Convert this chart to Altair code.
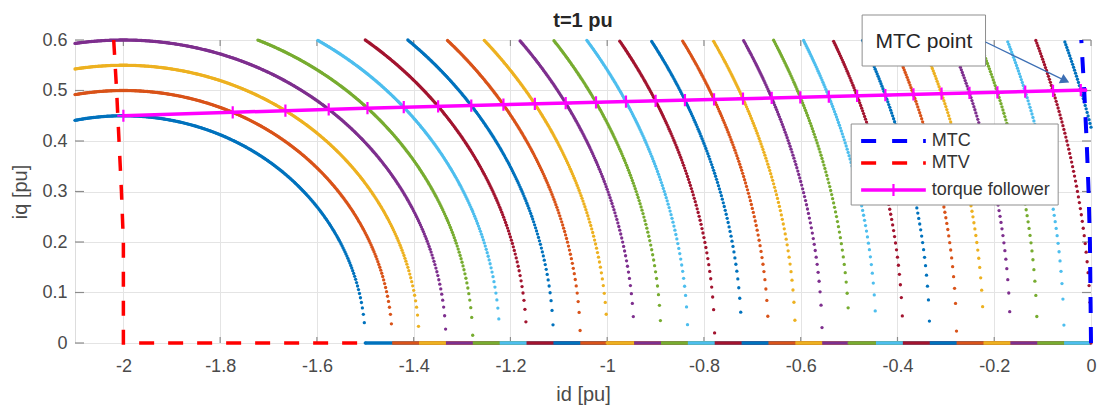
import altair as alt
import numpy as np
import pandas as pd

# ---------------- text ----------------
TITLE = "t=1 pu"
X_LABEL = "id [pu]"
Y_LABEL = "iq [pu]"
ANNOT_TEXT = "MTC point"
LEGEND_LABELS = ["MTC", "MTV", "torque follower"]

# ---------------- axes ----------------
X_DOMAIN = [-2.1, 0.0]
Y_DOMAIN = [0.0, 0.6]
X_TICKS = [-2, -1.8, -1.6, -1.4, -1.2, -1, -0.8, -0.6, -0.4, -0.2, 0]
Y_TICKS = [0, 0.1, 0.2, 0.3, 0.4, 0.5, 0.6]

# ---------------- voltage-limit arcs ----------------
ARC_CENTER_ID = -2.0
ARC_INTERCEPTS = [-1.5, -1.4444, -1.3889, -1.3333, -1.2778, -1.2222, -1.1667,
                  -1.1111, -1.0556, -1.0, -0.9444, -0.8889, -0.8333, -0.7778,
                  -0.7222, -0.6667, -0.6111, -0.5556, -0.5, -0.4444, -0.3889,
                  -0.3333, -0.2778, -0.2222, -0.1667, -0.1111, -0.0556, 0.0, 0.0556]
ARC_PEAKS = [0.45, 0.50, 0.55, 0.60, 0.65, 0.70, 0.75, 0.80, 0.85, 0.90,
             0.95, 1.00, 1.05, 1.10, 1.15, 1.20, 1.25, 1.30, 1.35, 1.40,
             1.45, 1.50, 1.55, 1.60, 1.65, 1.70, 1.75, 1.80, 1.85]
ARC_COLORS = ["#0072BD", "#D95319", "#EDB120", "#7E2F8E", "#77AC30", "#4DBEEE", "#A2142F"]
ID_STEP = 0.002

# ---------------- other curves ----------------
MTC_ID = [0.0, -0.0022, -0.005, -0.009, -0.014, -0.02]
MTC_IQ = [0.0, 0.2, 0.3, 0.4, 0.5, 0.6]
MTV_ID = [-2.02, -2.014, -2.009, -2.004, -2.0, -2.0, -1.5]
MTV_IQ = [0.6, 0.5, 0.4, 0.3, 0.2, 0.0, 0.0]
TF_ID = [-2.0, -1.5, -1.0, -0.5, -0.008]
TF_IQ = [0.45, 0.465, 0.477, 0.489, 0.501]

# ---------------- build tables ----------------
ids = np.round(X_DOMAIN[0] + np.arange(int(round((X_DOMAIN[1] - X_DOMAIN[0]) / ID_STEP)) + 1) * ID_STEP, 6)
arc_rows = []
seg_rows = []
for k, (xi, pk) in enumerate(zip(ARC_INTERCEPTS, ARC_PEAKS)):
    col = ARC_COLORS[k % len(ARC_COLORS)]
    a = xi - ARC_CENTER_ID
    u = 1 - ((ids - ARC_CENTER_ID) / a) ** 2
    iq = pk * np.sqrt(np.clip(u, 0, None))
    mask = (u >= -1e-9) & (iq <= Y_DOMAIN[1] + 1e-9)
    for x, y in zip(ids[mask], iq[mask]):
        arc_rows.append({"id": float(x), "iq": float(y), "c": col, "k": k})
    if xi < 0:
        seg_rows.append({"id": xi, "id2": 0.0, "iq": 0.0, "c": col, "k": k})
arcs_df = pd.DataFrame(arc_rows)
seg_df = pd.DataFrame(seg_rows)

# torque follower markers: crossing of the follower with each arc
fine = np.linspace(TF_ID[0], TF_ID[-1], 20001)
tf_fine = np.interp(fine, TF_ID, TF_IQ)
mk_rows = []
for k, (xi, pk) in enumerate(zip(ARC_INTERCEPTS, ARC_PEAKS)):
    a = xi - ARC_CENTER_ID
    u = 1 - ((fine - ARC_CENTER_ID) / a) ** 2
    ey = np.where(u >= 0, pk * np.sqrt(np.clip(u, 0, None)), -1.0)
    f = ey - tf_fine
    idx = np.where(f >= -1e-9)[0]
    if len(idx) == 0:
        continue
    j = idx.max()
    if j >= len(fine) - 1:
        continue
    t = f[j] / (f[j] - f[j + 1]) if f[j] != f[j + 1] else 0
    xm = fine[j] + t * (fine[j + 1] - fine[j])
    mk_rows.append({"id": float(xm), "iq": float(np.interp(xm, TF_ID, TF_IQ))})
mk_df = pd.DataFrame(mk_rows)

mtc_df = pd.DataFrame({"id": MTC_ID, "iq": MTC_IQ, "o": range(len(MTC_ID))})
mtv_df = pd.DataFrame({"id": MTV_ID, "iq": MTV_IQ, "o": range(len(MTV_ID))})
tf_df = pd.DataFrame({"id": TF_ID, "iq": TF_IQ, "o": range(len(TF_ID))})

# ---------------- style ----------------
FONT = "Liberation Sans"
TXT = "#4a4a4a"
BOX = "#8c8c8c"
W, H = 1016, 303
SX = W / 1021.0  # horizontal factor for pixel-placed decorations

xscale = alt.Scale(domain=X_DOMAIN, nice=False, zero=False)
yscale = alt.Scale(domain=Y_DOMAIN, nice=False, zero=False)
xaxis = alt.Axis(values=X_TICKS, title=X_LABEL, grid=True, gridColor="#e4e4e4", gridWidth=1,
                 ticks=False, tickSize=0, domain=False, labelFont=FONT, labelFontSize=18,
                 labelColor=TXT, labelPadding=14, labelFlush=False, labelOverlap=False,
                 labelExpr="toString(datum.value)", titleFont=FONT, titleFontSize=20,
                 titleFontWeight="normal", titleColor=TXT, titlePadding=9)
yaxis = alt.Axis(values=Y_TICKS, title=Y_LABEL, grid=True, gridColor="#e4e4e4", gridWidth=1,
                 ticks=False, tickSize=0, domain=False, labelFont=FONT, labelFontSize=18,
                 labelColor=TXT, labelPadding=8, labelFlush=False, labelOverlap=False,
                 labelExpr="toString(datum.value)", titleFont=FONT, titleFontSize=20,
                 titleFontWeight="normal", titleColor=TXT, titlePadding=11)


def X(field="id"):
    return alt.X(f"{field}:Q", scale=xscale, axis=xaxis)


def Y(field="iq"):
    return alt.Y(f"{field}:Q", scale=yscale, axis=yaxis)


one = pd.DataFrame({"d": [0]})

# inward ticks on all four sides
xt_df = pd.DataFrame({"id": X_TICKS})
yt_df = pd.DataFrame({"iq": Y_TICKS})
xt_bottom = alt.Chart(xt_df).mark_rule(color=BOX, strokeWidth=1.2).encode(
    x=X(), y=alt.value(H), y2=alt.value(H - 6))
xt_top = alt.Chart(xt_df).mark_rule(color=BOX, strokeWidth=1.2).encode(
    x=X(), y=alt.value(0), y2=alt.value(6))
yt_left = alt.Chart(yt_df).mark_rule(color=BOX, strokeWidth=1.2).encode(
    y=Y(), x=alt.value(0), x2=alt.value(9))
yt_right = alt.Chart(yt_df).mark_rule(color=BOX, strokeWidth=1.2).encode(
    y=Y(), x=alt.value(W - 9), x2=alt.value(W))

segs = alt.Chart(seg_df).mark_rule(strokeWidth=3.5).encode(
    x=X(), x2="id2:Q", y=Y(), color=alt.Color("c:N", scale=None))

arcs = alt.Chart(arcs_df).mark_circle(size=11, opacity=1).encode(
    x=X(), y=Y(), color=alt.Color("c:N", scale=None))

mtv = alt.Chart(mtv_df).mark_line(color="#FF0000", strokeWidth=3.5, strokeDash=[15, 14]).encode(
    x=X(), y=Y(), order="o:Q")
mtc = alt.Chart(mtc_df).mark_line(color="#0000FF", strokeWidth=4, strokeDash=[16, 14]).encode(
    x=X(), y=Y(), order="o:Q")
tf_line = alt.Chart(tf_df).mark_line(color="#FF00FF", strokeWidth=3.5).encode(
    x=X(), y=Y(), order="o:Q")
PLUS = "M0,-1L0,1M-1,0L1,0"
tf_mk = alt.Chart(mk_df).mark_point(shape=PLUS, filled=False, color="#FF00FF", strokeWidth=2.2,
                                    size=150, opacity=1).encode(x=X(), y=Y())

# ---------------- title (pixel position above plot) ----------------
title_mark = alt.Chart(one).mark_text(text=TITLE, font=FONT, fontSize=20, fontWeight="bold",
                                      color="#262626", align="center", baseline="middle").encode(
    x=alt.value(W / 2), y=alt.value(-19))

# ---------------- legend (pixel positions in plot area) ----------------
LG_X0, LG_X1, LG_Y0, LG_Y1 = 780 * SX, 988 * SX, 84, 165
LG_ROWS = [101, 123, 150]
LG_S0, LG_S1, LG_T = 790 * SX, 855 * SX, 861 * SX
lg_box = alt.Chart(one).mark_rect(fill="white", stroke="#8f8f8f", strokeWidth=1).encode(
    x=alt.value(LG_X0), x2=alt.value(LG_X1), y=alt.value(LG_Y0), y2=alt.value(LG_Y1))
lg_mtc = alt.Chart(one).mark_rule(color="#0000FF", strokeWidth=4, strokeDash=[15, 16]).encode(
    x=alt.value(LG_S0), x2=alt.value(LG_S1), y=alt.value(LG_ROWS[0]))
lg_mtv = alt.Chart(one).mark_rule(color="#FF0000", strokeWidth=3.5, strokeDash=[15, 16]).encode(
    x=alt.value(LG_S0), x2=alt.value(LG_S1), y=alt.value(LG_ROWS[1]))
lg_tf = alt.Chart(one).mark_rule(color="#FF00FF", strokeWidth=3.5).encode(
    x=alt.value(LG_S0), x2=alt.value(LG_S1), y=alt.value(LG_ROWS[2]))
lg_tfm = alt.Chart(one).mark_point(shape=PLUS, filled=False, color="#FF00FF", strokeWidth=2.2,
                                   size=150, opacity=1).encode(
    x=alt.value((LG_S0 + LG_S1) / 2), y=alt.value(LG_ROWS[2]))
lg_txt = [alt.Chart(one).mark_text(text=t, font=FONT, fontSize=18, color="#333333",
                                   align="left", baseline="middle").encode(
    x=alt.value(LG_T), y=alt.value(r)) for t, r in zip(LEGEND_LABELS, LG_ROWS)]

# ---------------- "MTC point" annotation ----------------
AN_X0, AN_X1, AN_Y0, AN_Y1 = 791 * SX, 915 * SX, -25, 26
AR_X0, AR_Y0, AR_X1, AR_Y1 = 915 * SX, 2, 995 * SX, 40.6
an_box = alt.Chart(one).mark_rect(fill="white", stroke="#8f8f8f", strokeWidth=1).encode(
    x=alt.value(AN_X0), x2=alt.value(AN_X1), y=alt.value(AN_Y0), y2=alt.value(AN_Y1))
an_txt = alt.Chart(one).mark_text(text=ANNOT_TEXT, font=FONT, fontSize=21, color="#262626",
                                  align="center", baseline="middle").encode(
    x=alt.value((AN_X0 + AN_X1) / 2), y=alt.value((AN_Y0 + AN_Y1) / 2 + 1))
an_line = alt.Chart(one).mark_rule(color="#3d6fb4", strokeWidth=1.2).encode(
    x=alt.value(AR_X0), x2=alt.value(AR_X1), y=alt.value(AR_Y0), y2=alt.value(AR_Y1))
an_head = alt.Chart(one).mark_point(shape="triangle-right", filled=True, color="#3d6fb4",
                                    size=110, angle=26, opacity=1).encode(
    x=alt.value(AR_X1), y=alt.value(AR_Y1))

chart = alt.layer(
    xt_bottom, xt_top, yt_left, yt_right,
    segs, arcs, mtv, mtc, tf_line, tf_mk,
    title_mark,
    lg_box, lg_mtc, lg_mtv, lg_tf, lg_tfm, *lg_txt,
    an_box, an_txt, an_line, an_head,
).properties(
    width=W, height=H,
    autosize="none",
    padding={"left": 67, "top": 32, "right": 6, "bottom": 64},
).configure_view(stroke=BOX, strokeWidth=1.5).configure(background="white")

chart.save("out.html", embed_options={"renderer": "svg", "actions": False})
